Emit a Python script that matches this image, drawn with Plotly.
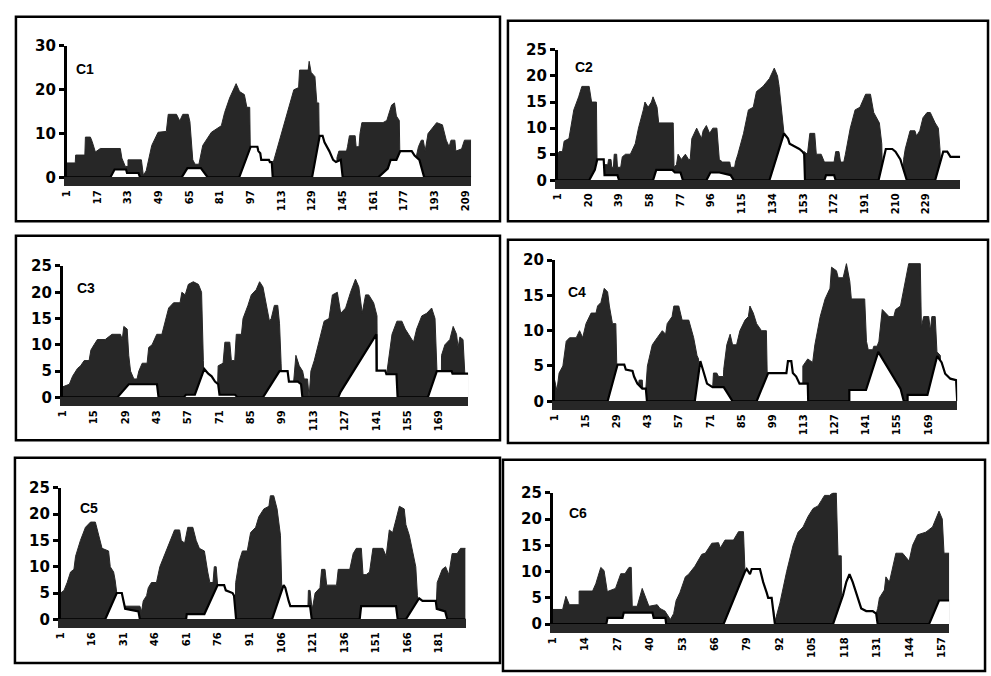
import plotly.graph_objects as go

W, H = 991, 676
DARK = "#272727"

# ---------------- data ----------------
# dark filled series: (position, value) breakpoints
c1_dark = [(1,3.3),(5.5,3.3),(5.7,5.1),(10.5,5.1),(10.8,9.2),(13.4,9.2),(14.3,8.2),(16,5.8),(18.6,6.6),(29,6.6),(29.8,4.4),(31.6,2.5),(33,2.5),(33,4),(40,4),(41,0.5),(42.5,1.5),(45.4,7.3),(48.7,10.3),(53,10.5),(54,14.4),(58.3,14.4),(60,12.9),(61.6,14.4),(64.4,14.4),(65.3,12.7),(66.8,4),(68,3),(70,3),(72,7.3),(76.5,10.3),(81.7,11.8),(83.4,14.8),(86,18.1),(89.4,21.4),(91.2,19.6),(93.7,18.9),(95,16),(96.5,16),(97,0),(108,0),(108.5,3),(119.5,20),(122,20.5),(122.5,24.5),(127,24.5),(127.5,26.5),(128.5,24),(130.5,23),(131.5,17),(132.5,17),(133,0),(142,0),(142,4.5),(143,6),(147,6),(147.5,7),(148.5,9.5),(151.5,9.5),(152,7),(153.5,7),(154,10),(155,12.5),(166,12.5),(168,13),(170.5,16.5),(172,17),(173,14),(174.5,13),(175,0),(183.5,0),(183.5,5),(184.5,7),(186,8.5),(187,8.5),(188,6),(189.5,10),(192,11.5),(194,12.5),(197,12),(199,8.5),(200.5,7),(201.5,8.5),(203.5,8.5),(204,6),(207,6.5),(208.5,8.5),(212,8.5)]
c1_line = [(1,0),(23.8,0),(26,1.8),(32,1.8),(32.5,1),(38.5,1),(39.3,0),(61,0),(64,2.1),(71,2.1),(74.6,0),(91,0),(97,7),(100.5,7),(101,6),(102,5.5),(102.5,4),(106.5,4),(107,3.5),(108,3.5),(108.5,0),(129,0),(133,9.5),(134.5,9.5),(135.5,8),(138,6),(140,4),(141.5,3.5),(144,4),(145,0),(163.5,0),(168.5,2),(170,4),(173,4),(175,6),(181,6),(182.5,5),(185,4),(187.5,0),(212,0)]

c2_dark = [(1,5),(2,5.5),(4,5.5),(5,7.5),(8,8),(11,13.5),(14,16),(16,18),(20.5,18),(22,15),(25,15),(25.5,0),(29.5,0),(30,3),(32,3),(32.5,4),(34,4),(34.5,2.5),(35.5,2.5),(36,5),(37.5,5),(38,2.5),(40,2.5),(41,4.5),(43,5),(46,5),(49,7),(51,10),(54,13.5),(55,15),(57,14),(59,15),(60,16),(62.5,14),(63.5,11),(72.5,11),(73,2.5),(74.5,3),(75.5,5),(77.5,4),(80,5),(82,4),(83,4),(84,8),(87,10),(90,8),(91,9.5),(93,10.5),(95,9),(97,10),(99.5,10),(101,4),(103,3.5),(107.5,3.5),(108,2.5),(110.5,2.5),(111,3.5),(112.5,5),(116,9),(119,13.5),(122,14),(124,17),(128,18),(132,19.5),(135,21.5),(137,20),(138,18),(140,11),(141,9),(141.5,0),(153,0),(153.5,5.5),(155.5,5),(157,9),(160,9),(161,5),(164,5),(166,3.5),(172,3.5),(173,5.5),(175,5.5),(176,3.5),(178,3.5),(179,5),(182,10),(185,13.5),(188,14),(191.5,16.5),(194.5,16.5),(196.5,13),(200,11),(201.5,7),(202,0),(215,0),(215,4),(216,6),(219,9.5),(222,9.5),(223,8.5),(225,9.5),(227,12),(229.5,13),(231.5,13),(234.5,11),(236.5,10),(237.5,6),(238,0),(250,0)]
c2_line = [(1,0),(20.5,0),(24,2),(25.5,4),(29.5,4),(30,1),(38,1),(39,0),(60,0),(62,2),(72,2),(73.5,1.5),(77,1.5),(78.5,0),(93,0),(95.5,1.5),(101,1.5),(108,1),(110,0),(132,0),(141,9),(143.5,8),(144.5,7),(147.5,6.5),(150.5,6),(152.5,5.5),(153.5,5),(154,0),(166,0),(167,1),(172,1),(173,0),(199.5,0),(204,6),(208,6),(210,5.5),(211,5),(213,4),(217,0),(234.5,0),(239.5,5.5),(242,5.5),(244,4.5),(250,4.5)]

c3_dark = [(1,2),(4,2.5),(5.4,4),(7.6,5.5),(9,6),(10.6,7),(12.8,7),(13.6,9),(15,10),(16.5,11),(20,11),(21.7,11.5),(23,12),(26.8,12),(27.6,11),(28.3,13.5),(29.8,13),(30.5,8),(31.3,5),(32.8,3.5),(34.2,3.5),(35,5),(36.5,6.5),(38.7,6.5),(39.4,9.5),(40.9,10),(43,12),(45.3,12),(46.8,14.5),(48.3,17),(50.5,18),(53.4,18),(54.2,20),(55.7,19.5),(57.1,21.5),(59.3,22),(61.6,21.5),(63,20),(63.8,7),(64.2,0),(70,0),(70.4,6),(72.6,6.5),(73.4,10.5),(75.6,10.5),(76.3,7),(77.8,7),(78.5,12),(80.8,12),(81.5,15),(83.7,17.5),(85.2,19.5),(87.4,20.5),(88.9,22),(90.4,21),(92.6,16),(93.3,14.5),(94.1,15),(95.5,17.5),(97,17.5),(97.8,14),(98.5,6.5),(99,0),(103.5,0),(104.4,5),(105.1,8),(106.6,6),(108.1,5),(108.8,3.5),(110.3,3.5),(111,0),(111.8,5),(113.3,7),(116.2,12),(117.7,14.5),(119.9,15),(121.4,19.5),(123.6,20),(125.1,16),(127.3,17),(129.5,20),(131.7,22.5),(133.2,21),(134.7,16),(136.2,19.5),(137.6,19.5),(139.8,18),(141.3,15.5),(141.5,0),(145.8,0),(145.8,5),(148,12),(150.2,14.5),(152.4,14.5),(153.9,13),(155.4,12),(157.6,10.5),(159,13),(161.3,15.5),(163.5,16),(165.7,17),(167.2,15),(167.9,5),(168.5,0),(170,0),(170.1,8),(171.6,10),(173.8,11),(175.3,13.5),(176.8,12),(177.5,9.5),(178.3,11.5),(179.7,11),(180.5,4.5),(182,4.5)]
c3_line = [(1,0),(25.4,0),(30.5,2.5),(43.1,2.5),(43.8,0),(55,0),(56,0.5),(60,0.5),(64.2,5.4),(66,4.5),(67.5,4),(69,3),(70.4,2.5),(71,0.5),(78,0.5),(79,0),(90.4,0),(97.8,5),(101.4,5),(102,3),(106,3),(107.4,2.5),(108,0),(124,0),(125,1),(141,12),(141.1,5.1),(145,5.1),(145.5,4.4),(150,4.4),(150.5,0),(164,0),(168,5),(174.6,5),(175,4.5),(182,4.5)]

c4_dark = [(1,3),(2,1.5),(3,4),(4.7,5),(6.2,8.5),(7.7,9),(10.7,9),(12.2,10),(13.6,9),(15.1,11),(17.4,12.5),(19.6,12.5),(20.3,13.5),(21.8,14),(23.3,16),(24.8,15.5),(25.6,13.5),(27,11),(28.5,11),(29.3,0),(38.5,0),(38.5,2),(39,3),(40.4,3),(40.6,1.8),(42,1.8),(42.7,5),(44.9,8),(47.1,9),(49.4,10),(50.9,9.5),(51.6,11),(53.8,12),(54.6,13.5),(56.8,13.5),(58.3,11.5),(61.3,11.5),(63.5,9),(65,6.5),(65.7,6),(66,0),(71.7,0),(72.4,4),(73.9,4),(74.7,3.5),(76.9,3.5),(77,4.5),(78.4,8),(79.9,9.5),(81,8),(82.8,8),(84.3,10),(86.6,11.5),(88.1,12),(88.8,13.5),(90.3,12.5),(91.8,11),(94,10),(96.2,10),(96.8,0),(112.6,0),(112.6,5),(114.8,6),(117,5.5),(118,8),(120.4,12),(122.6,14.5),(124.8,16),(125.5,19),(127.7,18.5),(128.5,17.5),(130.7,17.5),(132.2,19.5),(133.7,17),(134.4,14.5),(140.4,14.5),(141.2,8.5),(142,7.3),(144,7.3),(144.5,7.8),(146,7.8),(146.8,8.5),(148.3,13),(149.8,12.5),(151.3,12),(153.5,12),(154.3,13),(156.5,13.5),(160.2,19.5),(165.4,19.5),(165.9,10.5),(166.9,12),(169.2,12),(169.9,10),(170.6,12),(172.1,12),(172.9,7),(174.4,6.5),(175,0),(182,0)]
c4_line = [(1,0),(24.8,0),(29.3,5.2),(32.3,5.2),(33,4.5),(36,4.3),(36.7,3.5),(38.2,2.5),(40.4,1.8),(42,1.8),(42.5,0),(64,0),(66.5,5.7),(68,4),(69.5,2.5),(72,2),(77,2),(79,1),(81,0),(91.8,0),(97,4),(105.2,4),(105.9,5.7),(107.4,5.7),(108.1,4),(109.6,3.5),(111.1,2.5),(114.8,2.5),(115,0),(133.5,0),(133.5,1.6),(141,1.6),(146.5,7),(156.5,1.8),(158,0),(159.7,0),(159.7,0.9),(168.6,0.9),(173,6.4),(175,5.5),(176.6,3.9),(178.9,3.2),(181.5,3),(182,0)]

c5_dark = [(1,5),(2.6,5.5),(4.1,7),(5.7,9),(7.3,9.5),(8.1,12),(10.4,15),(12.8,17.5),(15.2,18.5),(17.5,18.5),(19.1,16),(20.7,13.5),(23.8,13),(24.6,10),(26.2,9),(26.9,7.5),(27.7,5),(28,0),(31,0),(31.7,2.5),(38.7,2.5),(39.5,1.5),(40.3,3.5),(41.9,4.5),(42.7,6),(44.2,7),(46.6,7),(48.2,10),(49.7,11.5),(52.1,14),(53.7,15.5),(55.2,17),(57.6,17),(58.4,15),(60,14.5),(61.5,17.5),(63.9,17.5),(65.5,15),(67,13.5),(69.4,13),(71,9),(72,7),(73.5,7),(74.1,10),(75,10),(75.7,6.5),(76,0),(84,0),(84.3,7),(85.9,11),(87.5,13),(89.8,13),(91.4,16.5),(93.8,17.5),(95.3,19.5),(97.7,21),(100.1,21.5),(100.8,23.5),(102.4,23.5),(104,21),(105.6,16),(106.3,7),(106.6,0),(118.5,0),(118.9,5.5),(119.7,5.5),(120.5,2.5),(121,2.5),(122.1,5),(124.4,6),(125.2,9.5),(126.8,9.5),(127.6,6.5),(132.3,6.5),(133.1,9.5),(138.6,9.5),(140.2,12.5),(141.7,13.5),(144.1,13.5),(144.9,8.5),(146.4,8.5),(148,9),(149.6,13.5),(154.3,13.5),(155.9,12),(157.4,17),(159,16.5),(160.6,19),(162.2,21.5),(164.5,21),(165.3,18),(166.9,16),(170,10),(170.8,4.5),(171,0),(179.5,0),(180.2,7),(182.6,9.5),(184.2,10),(185.7,8.5),(187.3,12.5),(189.7,12.5),(191.3,13.5),(193.6,13.5)]
c5_line = [(1,0),(22.2,0),(27.7,5),(30.1,5),(30.9,3.5),(31.7,2),(38,1.5),(38.7,0),(60.7,0),(61,1),(69.4,1),(75.7,6.5),(78.8,6.5),(79.6,5.5),(82.8,5),(83.5,4.5),(84.5,0),(101.6,0),(107.1,6.5),(107.9,6),(109.5,3.5),(110.3,2.5),(119.7,2.5),(120.5,0),(143.3,0),(144,2.5),(160.6,2.5),(161.4,0),(165.3,0),(171.6,4),(173.2,3.5),(179.5,3.5),(180,2),(184,1.5),(185,0),(193.6,0)]

c6_dark = [(1,2.8),(5,2.8),(6.3,5.3),(7.7,3.7),(11.6,3.7),(11.6,6.3),(17,6.3),(18.3,7.7),(20.3,10.8),(21.6,10.2),(22.9,6.2),(26.2,6.8),(28.3,9.6),(30,9.6),(31.6,10.8),(32.5,10.8),(32.9,3.4),(34.9,3.4),(36.9,6.8),(38.5,5),(39.6,3.4),(42.9,3.7),(44,3),(46,2.5),(48.2,0.9),(49.5,2),(50.5,4.5),(52,6),(54.2,9),(55.5,9.5),(58,11),(60.8,13.3),(62.2,13.5),(64.8,15.4),(67.5,15.5),(68.2,14.5),(70.1,16),(73.5,16),(75.5,17.6),(77.5,17.6),(78.1,10),(78.5,0),(89.5,0),(89.5,3),(90.1,0.5),(92.1,4),(94.8,10),(97.4,15),(99.4,17.5),(101.4,18.5),(103.4,20.5),(105.4,22),(107.4,22.5),(108.7,23.5),(110,24.5),(112,24.5),(113.4,25),(114.7,25),(115.4,13),(116.7,13),(117,0),(130.7,0),(130.7,2),(131.3,3),(132,5),(134,6.5),(134.6,9),(136,8),(137.3,10.5),(138.6,13.5),(141.3,13.5),(143.9,12),(145.3,15),(147.3,17),(150.6,17.5),(153.3,18.5),(154.6,20),(155.9,21.5),(157.2,20),(157.9,13.5),(160,13.5)]
c6_line = [(1,0),(22.5,0),(23,1.2),(29,1.2),(29.5,2.2),(41,2.2),(41.5,1.2),(46.2,1.2),(46.5,0),(69.5,0),(78.1,10),(78.8,10.5),(80.1,9.5),(80.8,10.5),(84.1,10.5),(85.4,8),(86.8,6),(87.4,5),(88.8,5),(89.4,3),(90.1,0),(113.4,0),(117.4,5.5),(118.7,8),(120,9.5),(121.3,8),(122.7,6),(124,4),(124.7,3),(126.7,2.5),(129.3,2.5),(130.7,2),(131.3,0),(151.9,0),(155.9,4.5),(160,4.5)]

# tick labels
c1_ticks = [1,17,33,49,65,81,97,113,129,145,161,177,193,209]
c2_ticks = [1,20,39,58,77,96,115,134,153,172,191,210,229]
c3_ticks = [1,15,29,43,57,71,85,99,113,127,141,155,169]
c4_ticks = [1,15,29,43,57,71,85,99,113,127,141,155,169]
c5_ticks = [1,16,31,46,61,76,91,106,121,136,151,166,181]
c6_ticks = [1,14,27,40,53,66,79,92,105,118,131,144,157]

names = ["C1", "C2", "C3", "C4", "C5", "C6"]
darks = [c1_dark, c2_dark, c3_dark, c4_dark, c5_dark, c6_dark]
lines = [c1_line, c2_line, c3_line, c4_line, c5_line, c6_line]
ticks = [c1_ticks, c2_ticks, c3_ticks, c4_ticks, c5_ticks, c6_ticks]
y_max = [30, 25, 25, 20, 25, 25]
y_step = [10, 5, 5, 5, 5, 5]
n_pos = [212, 250, 182, 182, 194, 160]

# ---------------- layout (pixel geometry of each panel) ----------------
# plot area: left px, right px, top px (y_max), bottom px (0)
areas = [
    (61, 468, 38, 173),
    (555, 960, 42, 176),
    (57, 465, 264, 399),
    (552, 957, 258, 403),
    (55, 463, 492, 627),
    (550, 949, 497, 632),
]
label_pos = [(79, 62), (582, 60), (80, 287), (574, 291), (84, 513), (575, 518)]
boxes = [
    (10, 8, 497, 218),
    (505, 12, 988, 218),
    (10, 233, 497, 443),
    (505, 237, 988, 446),
    (9, 461, 497, 672),
    (500, 463, 985, 680),
]

FONT = "Liberation Sans, Arial, Helvetica, sans-serif"
TICKFONT = "DejaVu Sans, Liberation Sans, sans-serif"
fig = go.Figure()
layout = dict(
    width=W, height=H, margin=dict(l=0, r=0, t=0, b=0),
    paper_bgcolor="white", plot_bgcolor="white", showlegend=False,
    shapes=[], annotations=[],
)

for i in range(6):
    k = i + 1
    xs_d = [p[0] for p in darks[i]]
    ys_d = [p[1] for p in darks[i]]
    xs_l = [p[0] for p in lines[i]]
    ys_l = [p[1] for p in lines[i]]
    fig.add_trace(go.Scatter(
        x=xs_d, y=ys_d, mode="lines", fill="tozeroy", fillcolor=DARK,
        line=dict(color=DARK, width=1), xaxis=f"x{k}", yaxis=f"y{k}",
        hoverinfo="skip", showlegend=False))
    fig.add_trace(go.Scatter(
        x=xs_l, y=ys_l, mode="lines", fill="tozeroy", fillcolor="white",
        line=dict(color="black", width=2.2), xaxis=f"x{k}", yaxis=f"y{k}",
        hoverinfo="skip", showlegend=False))

    l, r, t, b = areas[i]
    layout[f"xaxis{k}"] = dict(
        domain=[l / W, r / W], anchor=f"y{k}", range=[1, n_pos[i]],
        showline=True, linewidth=9, linecolor=DARK, ticks="",
        tickmode="array", tickvals=ticks[i], ticktext=[str(v) for v in ticks[i]],
        tickangle=-90, showgrid=False, zeroline=False,
        tickfont=dict(family=TICKFONT, size=10, color="black", weight="bold"),
    )
    layout[f"yaxis{k}"] = dict(
        domain=[1 - b / H, 1 - t / H], anchor=f"x{k}", range=[0, y_max[i]],
        tick0=0, dtick=y_step[i], showline=True, linewidth=2.5, linecolor="black",
        ticks="outside", ticklen=5, tickwidth=2.5, tickcolor="black",
        showgrid=False, zeroline=False,
        tickfont=dict(family=TICKFONT, size=15, color="black", weight="bold"),
    )
    lx, ly = label_pos[i]
    layout["annotations"].append(dict(
        text=names[i], x=lx / W, y=1 - ly / H, xref="paper", yref="paper",
        xanchor="center", yanchor="middle", showarrow=False,
        font=dict(family=FONT, size=14, color="black", weight="bold")))
    x0, y0, x1, y1 = boxes[i]
    layout["shapes"].append(dict(
        type="rect", xref="paper", yref="paper",
        x0=x0 / W, x1=x1 / W, y0=1 - y1 / H, y1=1 - y0 / H,
        line=dict(color="black", width=2.5), fillcolor="rgba(0,0,0,0)", layer="above"))

fig.update_layout(**layout)
fig.write_html("out.html", config={"displayModeBar": False},
               post_script="document.body.style.margin='0';")
